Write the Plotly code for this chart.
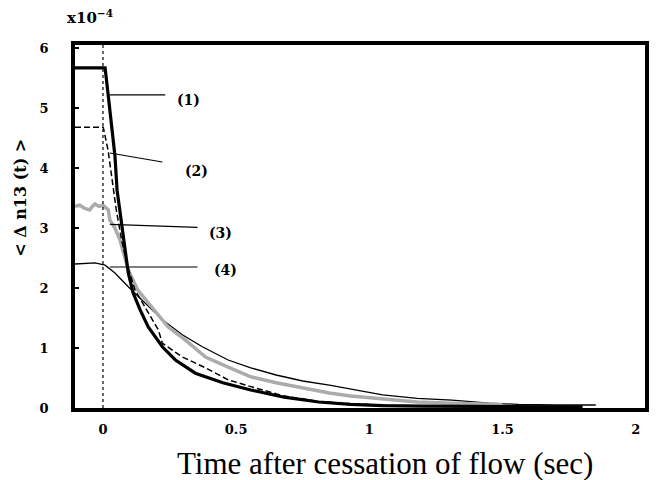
import plotly.graph_objects as go

# ---- data (x in sec, y in units of 1e-4) ----
x1 = [-0.105, 0.0, 0.008, 0.02, 0.034, 0.045, 0.053, 0.075, 0.095, 0.113, 0.14, 0.17, 0.223, 0.272, 0.347, 0.45, 0.555, 0.68, 0.81, 0.93, 1.05, 1.2, 1.5, 1.8]
y1 = [5.67, 5.67, 5.67, 5.2, 4.68, 4.2, 3.63, 2.95, 2.25, 1.92, 1.63, 1.35, 1.02, 0.8, 0.58, 0.42, 0.3, 0.18, 0.1, 0.06, 0.04, 0.03, 0.02, 0.02]

x2 = [-0.105, -0.005, 0.001, 0.019, 0.034, 0.05, 0.07, 0.09, 0.12, 0.158, 0.208, 0.223, 0.298, 0.385, 0.47, 0.575, 0.68, 0.81, 0.93, 1.1, 1.4, 1.8]
y2 = [4.68, 4.68, 4.68, 4.3, 3.85, 3.3, 2.8, 2.4, 1.97, 1.68, 1.3, 1.08, 0.85, 0.67, 0.47, 0.33, 0.2, 0.11, 0.07, 0.04, 0.02, 0.02]

x3 = [-0.105, -0.087, -0.07, -0.05, -0.04, -0.03, -0.015, 0.0, 0.01, 0.02, 0.026, 0.045, 0.064, 0.095, 0.13, 0.185, 0.245, 0.31, 0.385, 0.47, 0.555, 0.65, 0.75, 0.85, 0.93, 1.05, 1.18, 1.31, 1.4, 1.5]
y3 = [3.36, 3.38, 3.33, 3.3, 3.36, 3.4, 3.36, 3.38, 3.34, 3.3, 3.13, 3.0, 2.8, 2.3, 1.97, 1.68, 1.35, 1.13, 0.85, 0.68, 0.52, 0.42, 0.33, 0.25, 0.2, 0.15, 0.1, 0.08, 0.07, 0.06]

x4 = [-0.105, -0.03, 0.008, 0.045, 0.095, 0.147, 0.223, 0.298, 0.373, 0.47, 0.555, 0.65, 0.75, 0.85, 0.93, 1.05, 1.18, 1.31, 1.45, 1.56, 1.7, 1.85]
y4 = [2.4, 2.42, 2.38, 2.25, 2.02, 1.8, 1.47, 1.22, 1.02, 0.8, 0.67, 0.55, 0.45, 0.38, 0.32, 0.22, 0.16, 0.13, 0.08, 0.06, 0.05, 0.05]

y_ticks = [0, 1, 2, 3, 4, 5, 6]
y_tick_labels = ["0", "1", "2", "3", "4", "5", "6"]
x_ticks = [0, 0.5, 1, 1.5, 2]
x_tick_labels = ["0", "0.5", "1", "1.5", "2"]

# curve labels with leader lines
labels = ["(1)", "(2)", "(3)", "(4)"]
lab_line_x0 = [0.026, 0.026, 0.026, 0.026]
lab_line_y0 = [5.22, 4.25, 3.06, 2.35]
lab_line_x1 = [0.234, 0.223, 0.355, 0.355]
lab_line_y1 = [5.22, 4.1, 3.01, 2.35]
lab_x = [0.32, 0.35, 0.44, 0.46]
lab_y = [5.14, 3.95, 2.92, 2.3]

fig = go.Figure()
fig.add_trace(go.Scatter(x=x4, y=y4, mode="lines", line=dict(color="black", width=1.3)))
fig.add_trace(go.Scatter(x=x3, y=y3, mode="lines", line=dict(color="#ababab", width=3.5)))
fig.add_trace(go.Scatter(x=x2, y=y2, mode="lines", line=dict(color="black", width=1.5, dash="6px,3px")))
fig.add_trace(go.Scatter(x=x1, y=y1, mode="lines", line=dict(color="black", width=3.2)))

fig.add_shape(type="line", x0=0, x1=0, y0=0, y1=1, xref="x", yref="paper",
              line=dict(color="black", width=1.2, dash="3px,3px"))

for i in range(len(labels)):
    fig.add_shape(type="line", x0=lab_line_x0[i], y0=lab_line_y0[i], x1=lab_line_x1[i], y1=lab_line_y1[i],
                  line=dict(color="black", width=1.2))
    fig.add_annotation(x=lab_x[i], y=lab_y[i], text="<b>" + labels[i] + "</b>", showarrow=False,
                       font=dict(family="DejaVu Serif", size=14, color="black"))

fig.add_annotation(xref="paper", yref="paper", x=0.026, y=1.0, yanchor="bottom", xanchor="center",
                   yshift=16, text="<b>x10<sup>−4</sup></b>", showarrow=False,
                   font=dict(family="DejaVu Serif", size=15, color="black"))

fig.add_annotation(xref="paper", yref="paper", x=0.544, y=-0.152, yanchor="middle", xanchor="center",
                   text="Time after cessation of flow (sec)", showarrow=False,
                   font=dict(family="Liberation Serif", size=31, color="black"))

fig.add_annotation(xref="paper", yref="paper", x=-0.096, y=0.58, xanchor="center", yanchor="middle",
                   textangle=-90, text="<b>&lt; Δ n13 (t) &gt;</b>", showarrow=False,
                   font=dict(family="DejaVu Serif", size=16, color="black"))

tick_font = dict(family="DejaVu Serif", size=13, color="black", weight="bold")

fig.update_layout(
    width=672, height=480,
    margin=dict(l=75, r=27, t=45, b=72),
    paper_bgcolor="white", plot_bgcolor="white",
    showlegend=False,
    xaxis=dict(range=[-0.105, 2.035], tickvals=x_ticks, ticktext=x_tick_labels,
               showgrid=False, zeroline=False, showline=True, mirror=True,
               linecolor="black", linewidth=3.5, ticks="", ticklabelstandoff=7,
               tickfont=tick_font),
    yaxis=dict(range=[0, 6.05], tickvals=y_ticks, ticktext=y_tick_labels,
               showgrid=False, zeroline=False, showline=True, mirror=True,
               linecolor="black", linewidth=3.5, ticks="inside", ticklen=4, tickwidth=2,
               tickcolor="black", ticklabelstandoff=20,
               tickfont=tick_font),
)

fig.write_html("out.html", config={"displayModeBar": False},
               post_script="document.body.style.margin='0';")
